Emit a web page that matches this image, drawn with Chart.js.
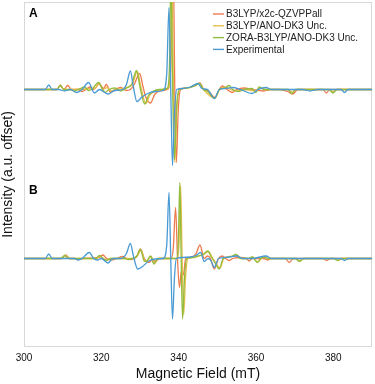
<!DOCTYPE html>
<html>
<head>
<meta charset="utf-8">
<script src="https://cdn.jsdelivr.net/npm/chart.js@4.4.0/dist/chart.umd.min.js"></script>
<style>
  html, body { margin: 0; padding: 0; background: #fff; }
</style>
</head>
<body>
<canvas id="chart-epr" width="375" height="384"></canvas>
<script>
// EPR spectra, simulated vs experimental, two panels offset vertically
const seriesLabels = ['B3LYP/x2c-QZVPPall', 'B3LYP/ANO-DK3 Unc.', 'ZORA-B3LYP/ANO-DK3 Unc.', 'Experimental'];
const seriesColors = ['#ee7b4e', '#e8be4a', '#92bc3e', '#4a9ad4'];
const panelLabels = ['A', 'B'];
const panelOffsets = [1.7, -1.68];
const xTickValues = [300, 320, 340, 360, 380];

// panel A, [field mT, intensity a.u.]
const orangeA = [[300,0],[308.5,0],[309.4,0.09],[310.3,0],[311.3,0.08],[312.3,0],[314,0],[315,-0.04],[316,0],[317,0.05],[318,0],[319.5,0.12],[320.5,0.02],[321.3,0.1],[322.3,-0.05],[323.5,0],[325,0.04],[326.5,-0.02],[327.5,0],[328.5,0.1],[329.9,0.32],[330.8,0.05],[331.5,-0.15],[332.7,-0.27],[333.8,-0.1],[335,-0.03],[337,0],[337.8,0.2],[338.6,2.4],[339.0,0],[339.4,-1.46],[339.9,-0.4],[340.5,0],[342,0.03],[344,0.07],[345.5,0.13],[346.5,0],[347.5,-0.02],[349.4,-0.16],[350.5,0],[351.3,0.07],[352.5,0],[353.8,-0.06],[355,0],[357,0.03],[359,0],[362,-0.03],[364,0],[366,0],[368.2,-0.04],[369.5,-0.09],[370.8,0],[377.3,0],[378.2,-0.07],[379.1,0],[390,0]];
const yellowA = [[300,0],[308.5,0],[309.4,0.08],[310.3,0],[318.5,0.03],[319.4,0.12],[320.4,0],[321.5,0.04],[322.5,-0.03],[324,0],[328,0.1],[329.3,0.36],[330.3,0.03],[331.5,-0.28],[332.5,-0.12],[334,-0.03],[336,0],[337.5,0.05],[337.9,0.4],[338.3,2.3],[338.65,0],[339.0,-1.46],[339.6,-0.3],[340.3,0],[342,0.03],[344,0.07],[345.4,0.12],[346.4,0],[349.4,-0.17],[350.6,0],[352.2,0.05],[353.3,0],[355,-0.03],[357,0],[360,-0.03],[361,0.03],[362.5,0],[368.5,0],[369.4,-0.06],[370.3,0],[379,0],[380,-0.05],[381,0],[390,0]];
const greenA = [[300,0],[308.5,0],[309.4,0.08],[310.3,0],[312,0],[313,-0.03],[314,0],[315.7,0.05],[316.7,-0.02],[317.5,0],[319.3,0.14],[320.3,0],[321,-0.06],[322,0],[323.5,0.03],[325,-0.03],[326.5,0.03],[327.8,0.1],[329.1,0.38],[330,0.05],[331.2,-0.29],[332.2,-0.12],[333.5,-0.03],[335,0],[337,0.02],[337.6,0.4],[338.0,2.3],[338.45,0],[338.9,-1.4],[339.5,-0.3],[340.2,0],[342,0.03],[344,0.07],[345.4,0.12],[346.4,0],[347.3,-0.03],[349.4,-0.17],[350.5,0],[352,0.03],[353,0.08],[354,0],[355.5,-0.04],[357,0],[359,0.02],[360,-0.06],[360.8,0.05],[362,0],[368.3,0],[369.2,-0.08],[370.2,0],[378.9,0],[379.9,-0.07],[380.9,0],[390,0]];
const blueA = [[300,0],[305.5,0],[306.4,0.09],[307.3,0],[309,0],[310.5,-0.03],[312,0],[313.6,-0.06],[315,0],[316.7,0.14],[318.2,-0.07],[319.5,0],[321.7,-0.09],[323.5,-0.02],[325.5,0],[326.5,0.1],[327.5,0.37],[328.3,0.05],[329.2,-0.24],[330.5,-0.15],[332,-0.08],[334,-0.04],[336,-0.02],[336.9,0.3],[337.5,1.64],[337.95,0],[338.4,-1.52],[338.9,-0.5],[339.5,0],[341,0.02],[343,0.05],[345,0.12],[346,0.02],[347.5,0],[349.2,-0.18],[350.5,0],[352,0.02],[354,0.04],[356,0],[359,-0.08],[360.5,0],[362.6,0.04],[364,0],[372,0],[374,-0.03],[376,0],[382,0],[382.9,-0.06],[383.8,0],[390,0]];

// panel B
const orangeB = [[300,0],[309.8,0],[310.8,0.07],[311.8,0],[313,0],[314,-0.02],[315,0],[319.4,0.02],[320.4,0.07],[321.4,0],[322.5,-0.03],[324,0],[325.5,0.04],[326.5,0],[327.5,-0.02],[329.2,0.05],[330.1,0.19],[331.1,0],[332.3,-0.08],[333.2,-0.02],[334,-0.06],[335,0],[338,0],[338.6,0.2],[339.2,1.02],[339.7,0],[340.2,-0.58],[340.7,-0.25],[341.2,-0.33],[341.8,0],[343,0.02],[344.5,0.1],[345.5,0.27],[346.6,0],[347.5,0.05],[348.2,0],[349.2,-0.21],[350.3,0],[351.3,0.05],[352.2,0],[353,-0.04],[354,0],[356,0.02],[357.5,0],[358.2,-0.05],[359,0],[362,0],[363,-0.03],[364,0],[367.6,0],[368.6,-0.08],[369.6,0],[377.3,0],[378.3,-0.04],[379.3,0],[390,0]];
const yellowB = [[300,0],[309.7,0],[310.7,0.06],[311.7,0],[318.8,0],[319.7,0.05],[320.6,0],[321.5,-0.03],[322.5,0],[328,0],[329.3,0.05],[330.3,0.17],[331.3,-0.05],[331.8,-0.05],[332.9,0.04],[333.8,-0.1],[334.8,0],[336,0],[339.7,0],[340.1,0.3],[340.5,1.46],[340.9,0],[341.3,-1.12],[341.8,-0.35],[342.4,0],[343.8,0.02],[345.2,0.05],[346.5,0.08],[347.7,0.14],[348.7,0.02],[349.7,-0.1],[350.7,-0.19],[351.7,0],[353.7,0.04],[355,0.07],[356.2,0],[358,0],[359.2,0.03],[360.5,-0.07],[361.4,0],[362.2,0.03],[363.2,0],[370.4,0],[371.4,-0.05],[372.4,0],[380.3,0],[381.3,-0.04],[382.3,0],[390,0]];
const greenB = [[300,0],[309.5,0],[310.5,0.06],[311.5,0],[318.6,0],[319.5,0.06],[320.4,0],[321.3,-0.04],[322.3,0],[326,0],[327,-0.02],[328,0],[329.1,0.04],[330.1,0.18],[331.1,-0.05],[331.6,-0.06],[332.7,0.05],[333.6,-0.11],[334.6,0],[336,0],[339.5,0],[339.9,0.3],[340.3,1.52],[340.65,0],[341.0,-1.21],[341.5,-0.4],[342.1,0],[343.5,0.02],[345,0.05],[346.3,0.08],[347.5,0.15],[348.5,0.02],[349.5,-0.1],[350.5,-0.21],[351.5,0],[353.5,0.04],[354.8,0.08],[356,0],[358,0],[359,0.03],[360.3,-0.08],[361.2,0],[362,0.03],[363,0],[370.2,0],[371.2,-0.06],[372.2,0],[380.1,0],[381.1,-0.04],[382.1,0],[390,0]];
const blueB = [[300,0],[305.5,0],[306.4,0.09],[307.3,0],[309,0],[313,0],[314,-0.03],[315,0],[316.9,0.12],[318,0],[319,-0.03],[320,0],[321.7,-0.09],[323,0],[325,0],[326.5,0.1],[327.5,0.3],[328.3,0.05],[329.4,-0.21],[330.5,-0.17],[332.3,-0.05],[334,-0.01],[336,0],[336.9,0.25],[337.5,1.32],[337.95,0],[338.4,-1.21],[338.9,-0.4],[339.4,0],[341,0.02],[343,0.03],[344.5,0.06],[345.7,0.12],[346.6,-0.06],[347.6,0],[348.4,-0.05],[349.2,-0.18],[350.3,0],[352,0.02],[355.1,0.05],[356.5,0],[359,0],[362.6,0.05],[364,0],[382,0],[382.9,-0.04],[383.8,0],[390,0]];

const panelSeries = [
  [orangeA, yellowA, greenA, blueA],
  [orangeB, yellowB, greenB, blueB]
];
// blue drawn on top, orange at the bottom
const drawOrder = [3, 2, 1, 0];

function toPoints(pairs, offset) {
  return pairs.map(p => ({ x: p[0], y: p[1] + offset }));
}

const datasets = [];
panelSeries.forEach((list, p) => {
  list.forEach((pairs, i) => {
    datasets.push({
      label: seriesLabels[i],
      data: toPoints(pairs, panelOffsets[p]),
      borderColor: seriesColors[i],
      borderWidth: 1.3,
      pointRadius: 0,
      fill: false,
      cubicInterpolationMode: 'monotone',
      order: drawOrder[i]
    });
  });
});

const FONT = "'Liberation Sans', Arial, Helvetica, sans-serif";

const framePlugin = {
  id: 'frame',
  beforeDatasetsDraw(chart) {
    const { ctx, chartArea: a } = chart;
    ctx.save();
    ctx.strokeStyle = '#d8d8d8';
    ctx.lineWidth = 1;
    ctx.strokeRect(a.left + 0.5, a.top + 0.5, a.right - a.left - 1, a.bottom - a.top - 1);
    ctx.restore();
  },
  afterDraw(chart) {
    const { ctx, chartArea: a } = chart;
    ctx.save();
    // panel letters
    ctx.fillStyle = '#000';
    ctx.font = 'bold 12px ' + FONT;
    ctx.textBaseline = 'middle';
    ctx.textAlign = 'left';
    ctx.fillText(panelLabels[0], a.left + 5, a.top + 12);
    ctx.fillText(panelLabels[1], a.left + 5, a.top + 189);
    // legend
    ctx.font = '10px ' + FONT;
    ctx.fillStyle = '#222';
    seriesLabels.forEach((lab, i) => {
      const y = a.top + 12 + i * 11.8;
      ctx.strokeStyle = seriesColors[i];
      ctx.lineWidth = 1.4;
      ctx.beginPath();
      ctx.moveTo(a.right - 159, y);
      ctx.lineTo(a.right - 148, y);
      ctx.stroke();
      ctx.fillText(lab, a.right - 146, y + 0.5);
    });
    ctx.restore();
  }
};

new Chart(document.getElementById('chart-epr'), {
  type: 'line',
  data: { datasets },
  options: {
    responsive: false,
    animation: false,
    layout: { padding: { top: 2, right: 3, left: 0, bottom: 0 } },
    plugins: { legend: { display: false }, tooltip: { enabled: false } },
    scales: {
      x: {
        type: 'linear',
        min: 300,
        max: 390,
        afterBuildTicks: scale => { scale.ticks = xTickValues.map(v => ({ value: v })); },
        afterFit: scale => { scale.height = 37; },
        ticks: { font: { size: 10, family: FONT }, color: '#111', padding: 5, maxRotation: 0 },
        grid: { display: false, drawTicks: false },
        border: { display: false },
        title: { display: true, text: 'Magnetic Field (mT)', font: { size: 14, family: FONT }, color: '#111', padding: { top: 2, bottom: 1 } }
      },
      y: {
        min: -3.45,
        max: 3.45,
        afterFit: scale => { scale.width = 24; },
        ticks: { display: false },
        grid: { display: false, drawTicks: false },
        border: { display: false },
        title: { display: true, text: 'Intensity (a.u. offset)', font: { size: 14, family: FONT }, color: '#111', padding: { top: 0, bottom: 0 } }
      }
    }
  },
  plugins: [framePlugin]
});
</script>
</body>
</html>
